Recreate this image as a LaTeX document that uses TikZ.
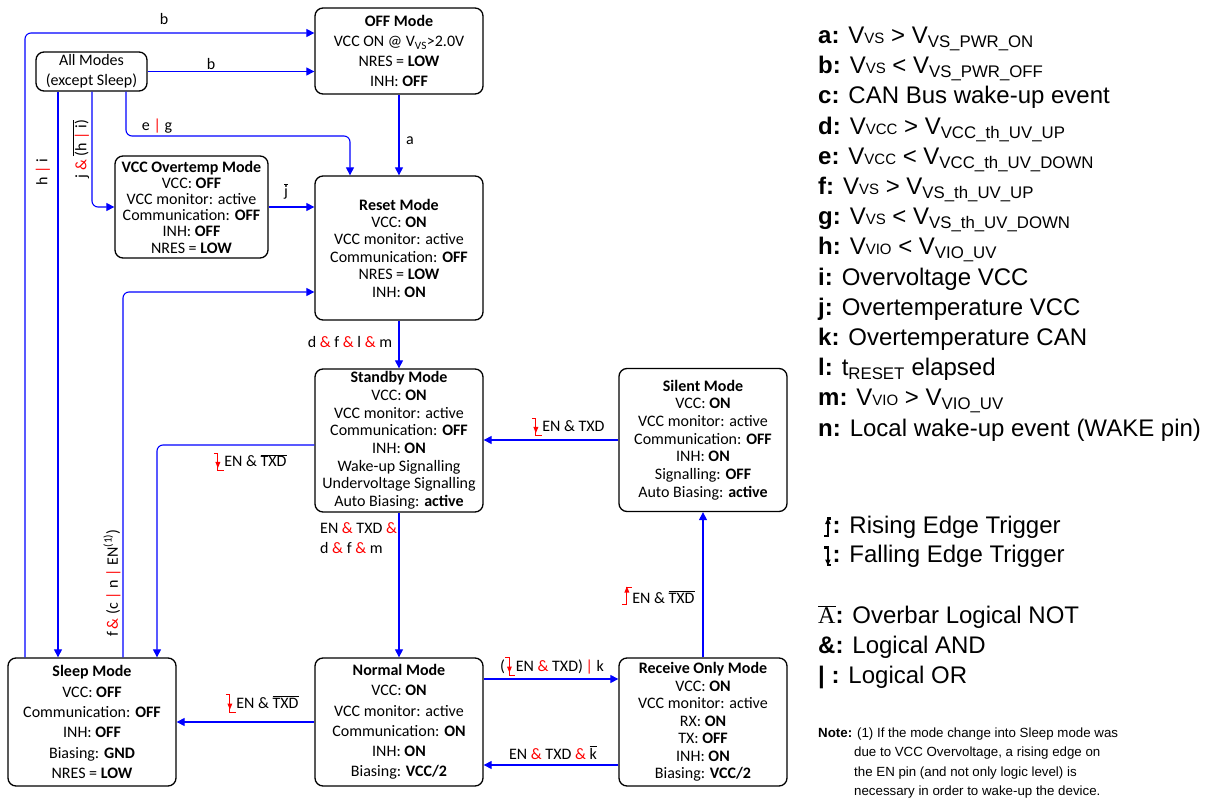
\documentclass[tikz,border=0pt]{standalone}
\usepackage{fontspec}
\setmainfont{Carlito}
\newfontfamily\legfont{Liberation Sans}
\newfontfamily\serifA{Liberation Serif}
\usetikzlibrary{arrows.meta}

\definecolor{wireblue}{RGB}{0,0,255}
\definecolor{opred}{RGB}{255,0,0}

% logic operators printed in red inside transition conditions
\newcommand\andop{\textcolor{opred}{\&}}
\newcommand\orop{\textcolor{opred}{|}}
% logical NOT bar
\newcommand\ovl[1]{$\overline{\hbox{#1}}$}
% small red edge-trigger glyphs used inline in conditions
\newcommand\fallsym{\tikz[baseline=0pt,x=1pt,y=1pt,line width=0.9pt,sharp corners]{%
  \draw[draw=opred] (-4,13.5) -- (0,13.5) -- (0,-4) -- (6,-4);
  \fill[fill=opred] (0,-1.5) -- (-2.5,4.5) -- (2.5,4.5) -- cycle;}}
\newcommand\risesym{\tikz[baseline=0pt,x=1pt,y=1pt,line width=0.9pt,sharp corners]{%
  \draw[draw=opred] (-5,-1) -- (0,-1) -- (0,16) -- (5,16);
  \fill[fill=opred] (0,16.5) -- (-2.5,10.5) -- (2.5,10.5) -- cycle;}}
% bold black glyphs for the key
\newcommand\keyrise{\tikz[baseline=0pt,x=1pt,y=1pt,line width=2.4pt,sharp corners]{%
  \draw[draw=black] (-3.5,-3) -- (0,-3) -- (0,14.5) -- (3.5,14.5);
  \fill[fill=black] (0,15) -- (-2.8,9) -- (2.8,9) -- cycle;}}
\newcommand\keyfall{\tikz[baseline=0pt,x=1pt,y=1pt,line width=2.4pt,sharp corners]{%
  \draw[draw=black] (-3.5,14.5) -- (0,14.5) -- (0,-3) -- (3.5,-3);
  \fill[fill=black] (0,-3.5) -- (-2.8,2.5) -- (2.8,2.5) -- cycle;}}

\tikzset{
  mode/.style={draw=black, line width=1.3pt, rounded corners=8pt, align=center,
    inner sep=0pt, font={\fontsize{16}{17.5}\selectfont}},
  conn/.style={draw=wireblue, line width=1.1pt, rounded corners=6pt,
    -{Triangle[length=8pt,width=8pt]}},
  lbl/.style={inner sep=0pt, anchor=base, font={\fontsize{16}{19.5}\selectfont}},
  rlbl/.style={inner sep=0pt, anchor=center, rotate=90, font={\fontsize{16}{19.5}\selectfont}},
  key/.style={inner sep=0pt, anchor=base west, font={\legfont\fontsize{24}{28}\selectfont}},
  note/.style={inner sep=0pt, anchor=base west, font={\legfont\fontsize{13.3}{15}\selectfont}},
}

\begin{document}
\begin{tikzpicture}[x=1pt,y=-1pt]
\fill[white] (0,0) rectangle (1211,799);
\useasboundingbox (0,0) rectangle (1211,799);

% ---------- states ----------
\node[mode, minimum width=111pt, minimum height=39pt, font={\fontsize{16}{20}\selectfont}]
  (allmodes) at (91.5,71.5) {All Modes\\(except Sleep)};
\node[mode, minimum width=168pt, minimum height=86pt, font={\fontsize{16}{20}\selectfont}]
  (off) at (399,51) {\textbf{OFF Mode}\\VCC ON @ V\textsubscript{VS}>2.0V\\NRES = \textbf{LOW}\\INH: \textbf{OFF}};
\node[mode, minimum width=153pt, minimum height=102pt, font={\fontsize{16}{16.2}\selectfont}]
  (overtemp) at (191.5,207) {\textbf{VCC Overtemp Mode}\\VCC: \textbf{OFF}\\VCC monitor: active\\Communication: \textbf{OFF}\\INH: \textbf{OFF}\\NRES = \textbf{LOW}};
\node[mode, minimum width=168pt, minimum height=144pt, font={\fontsize{16}{17.4}\selectfont}]
  (reset) at (399,248) {\textbf{Reset Mode}\\VCC: \textbf{ON}\\VCC monitor: active\\Communication: \textbf{OFF}\\NRES = \textbf{LOW}\\INH: \textbf{ON}};
\node[mode, minimum width=168pt, minimum height=143pt, font={\fontsize{16}{17.7}\selectfont}]
  (standby) at (399,440.5) {\textbf{Standby Mode}\\VCC: \textbf{ON}\\VCC monitor: active\\Communication: \textbf{OFF}\\INH: \textbf{ON}\\Wake-up Signalling\\Undervoltage Signalling\\Auto Biasing: \textbf{active}};
\node[mode, minimum width=168pt, minimum height=143pt, font={\fontsize{16}{17.7}\selectfont}]
  (silent) at (703,440) {\textbf{Silent Mode}\\VCC: \textbf{ON}\\VCC monitor: active\\Communication: \textbf{OFF}\\INH: \textbf{ON}\\Signalling: \textbf{OFF}\\Auto Biasing: \textbf{active}};
\node[mode, minimum width=168pt, minimum height=128pt, font={\fontsize{16}{20.3}\selectfont}]
  (sleep) at (92,722) {\textbf{Sleep Mode}\\VCC: \textbf{OFF}\\Communication: \textbf{OFF}\\INH: \textbf{OFF}\\Biasing: \textbf{GND}\\NRES = \textbf{LOW}};
\node[mode, minimum width=168pt, minimum height=128pt, font={\fontsize{16}{20.3}\selectfont}]
  (normal) at (399,722) {\textbf{Normal Mode}\\VCC: \textbf{ON}\\VCC monitor: active\\Communication: \textbf{ON}\\INH: \textbf{ON}\\Biasing: \textbf{VCC/2}};
\node[mode, minimum width=168pt, minimum height=128pt, font={\fontsize{16}{17.5}\selectfont}]
  (receive) at (703,722) {\textbf{Receive Only Mode}\\VCC: \textbf{ON}\\VCC monitor: active\\RX: \textbf{ON}\\TX: \textbf{OFF}\\INH: \textbf{ON}\\Biasing: \textbf{VCC/2}};

% ---------- routing lanes ----------
\coordinate (lnA) at (25,0);
\coordinate (lnB) at (58,0);
\coordinate (lnC) at (92,0);
\coordinate (lnD) at (126,0);
\coordinate (lnE) at (123,0);
\coordinate (lnF) at (157,0);
\coordinate (lnG) at (350,0);
\coordinate (rwB) at (0,33);
\coordinate (rwEG) at (0,136);
\coordinate (rwSR) at (0,292);
\coordinate (rwSB) at (0,445);
\coordinate (rwNR) at (0,679);
\coordinate (rwRN) at (0,765);

% ---------- transitions ----------
\draw[conn] (sleep.north -| lnA) |- (off.west |- rwB);
\draw[conn] (allmodes.east) -- (allmodes.east -| off.west);
\draw[conn] (allmodes.south -| lnB) -- (sleep.north -| lnB);
\draw[conn] (allmodes.south -| lnC) |- (overtemp.west);
\draw[conn] (allmodes.south -| lnD) |- (lnG |- rwEG) -- (reset.north -| lnG);
\draw[conn] (off.south) -- (reset.north);
\draw[conn] (overtemp.east) -- (overtemp.east -| reset.west);
\draw[conn] (sleep.north -| lnE) |- (reset.west |- rwSR);
\draw[conn] (reset.south) -- (standby.north);
\draw[conn] (silent.west) -- (silent.west -| standby.east);
\draw[conn] (standby.west |- rwSB) -| (sleep.north -| lnF);
\draw[conn] (standby.south) -- (normal.north);
\draw[conn] (normal.west) -- (sleep.east);
\draw[conn] (normal.east |- rwNR) -- (receive.west |- rwNR);
\draw[conn] (receive.west |- rwRN) -- (normal.east |- rwRN);
\draw[conn] (receive.north) -- (receive.north |- silent.south);

% ---------- conditions ----------
\node[lbl] (c-sleepoff) at (164,25) {b};
\node[lbl] (c-alloff) at (211,70) {b};
\node[rlbl] (c-allsleep) at (43,172) {h \orop{} i};
\node[rlbl] (c-allot) at (81,149) {j \andop{} \ovl{(h \orop{} i)}};
\node[lbl] (c-allreset) at (157,131) {e \orop{} g};
\node[lbl] (c-offreset) at (410,145) {a};
\node[lbl] (c-otreset) at (286,197) {\ovl{j}};
\node[lbl] (c-resetsb) at (350,348) {d \andop{} f \andop{} l \andop{} m};
\node[lbl] (c-silentsb) at (568,431.5) {\fallsym EN \& TXD};
\node[lbl] (c-sbsleep) at (250,466.5) {\fallsym EN \& \ovl{TXD}};
\node[inner sep=0pt, anchor=base west, align=left, font={\fontsize{16}{19.7}\selectfont}]
  (c-sbnormal) at (320,553) {EN \andop{} TXD \andop\\d \andop{} f \andop{} m};
\node[rlbl] (c-sleepreset) at (112,583) {f\,\andop{} (c \orop{} n \orop{} EN\textsuperscript{(1)})};
\node[lbl] (c-normsleep) at (262,708) {\fallsym EN \& \ovl{TXD}};
\node[lbl] (c-normrx) at (552,671) {(\fallsym EN \andop{} TXD)\,\orop{} k};
\node[lbl] (c-rxnorm) at (553,759) {EN \andop{} TXD \andop{} \ovl{k}};
\node[lbl] (c-rxsilent) at (658,603) {\risesym EN \& \ovl{TXD}};

% ---------- key ----------
\node[key] (k-a) at (818,44) {\textbf{a:} V{\fontsize{15}{15}\selectfont VS} > V\textsubscript{VS\_PWR\_ON}};
\node[key] (k-b) at (818,74) {\textbf{b:} V{\fontsize{15}{15}\selectfont VS} < V\textsubscript{VS\_PWR\_OFF}};
\node[key] (k-c) at (818,104) {\textbf{c:} CAN Bus wake-up event};
\node[key] (k-d) at (818,135) {\textbf{d:} V{\fontsize{15}{15}\selectfont VCC} > V\textsubscript{VCC\_th\_UV\_UP}};
\node[key] (k-e) at (818,165) {\textbf{e:} V{\fontsize{15}{15}\selectfont VCC} < V\textsubscript{VCC\_th\_UV\_DOWN}};
\node[key] (k-f) at (818,195) {\textbf{f:} V{\fontsize{15}{15}\selectfont VS} > V\textsubscript{VS\_th\_UV\_UP}};
\node[key] (k-g) at (818,225) {\textbf{g:} V{\fontsize{15}{15}\selectfont VS} < V\textsubscript{VS\_th\_UV\_DOWN}};
\node[key] (k-h) at (818,255) {\textbf{h:} V{\fontsize{15}{15}\selectfont VIO} < V\textsubscript{VIO\_UV}};
\node[key] (k-i) at (818,286) {\textbf{i:} Overvoltage VCC};
\node[key] (k-j) at (818,316) {\textbf{j:} Overtemperature VCC};
\node[key] (k-k) at (818,346) {\textbf{k:} Overtemperature CAN};
\node[key] (k-l) at (818,376) {\textbf{l:} t\textsubscript{RESET} elapsed};
\node[key] (k-m) at (818,406) {\textbf{m:} V{\fontsize{15}{15}\selectfont VIO} > V\textsubscript{VIO\_UV}};
\node[key] (k-n) at (818,437) {\textbf{n:} Local wake-up event (WAKE pin)};

\node[key] (k-rise) at (823,533) {\keyrise\textbf{:} Rising Edge Trigger};
\node[key] (k-fall) at (823,562) {\keyfall\textbf{:} Falling Edge Trigger};
\node[key] (k-not) at (818,623) {{\serifA\ovl{A}}\textbf{:} Overbar Logical NOT};
\node[key] (k-and) at (818,653) {\textbf{\&:} Logical AND};
\node[key] (k-or) at (818,683) {\textbf{|} \textbf{:} Logical OR};

\node[note] (n-1) at (818,737) {\textbf{Note:} (1) If the mode change into Sleep mode was};
\node[note] (n-2) at (854,756.5) {due to VCC Overvoltage, a rising edge on};
\node[note] (n-3) at (854,776) {the EN pin (and not only logic level) is};
\node[note] (n-4) at (854,795.5) {necessary in order to wake-up the device.};
\end{tikzpicture}
\end{document}
